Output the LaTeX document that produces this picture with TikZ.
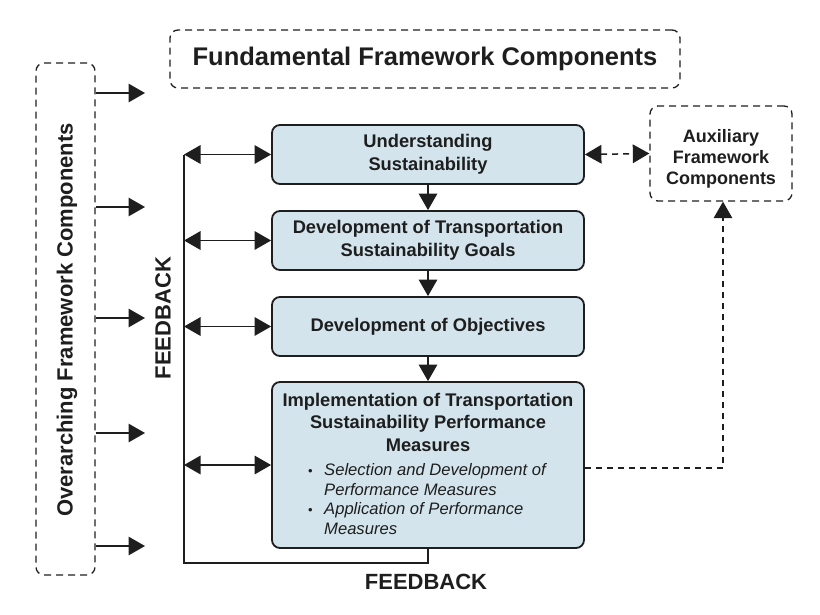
\documentclass[tikz,border=0pt]{standalone}
\usepackage{fontspec}
\setmainfont{Liberation Sans}
\usetikzlibrary{arrows.meta}
\definecolor{boxfill}{HTML}{D3E4EC}
\definecolor{ink}{HTML}{1E1E1E}
\newcommand\bulletmark{\makebox[16pt][l]{\upshape\fontsize{13}{13}\selectfont\textbullet}}
\begin{document}
\begin{tikzpicture}[x=1pt,y=-1pt,
  stage/.style={draw=ink, line width=1.8pt, fill=boxfill, rounded corners=8pt,
    minimum width=312pt, inner sep=0pt, text=ink},
  dbox/.style={draw=ink, line width=1.3pt, dash pattern=on 7pt off 5pt,
    rounded corners=8pt, inner sep=0pt},
  tip/.tip={Triangle[length=16.5pt,width=18.5pt]},
  arr/.style={draw=ink, line width=1.5pt, -tip},
  darr/.style={draw=ink, line width=1.5pt, tip-tip},
  fbline/.style={draw=ink, line width=1.5pt, line join=miter},
  ddarr/.style={draw=ink, line width=1.5pt, dash pattern=on 6pt off 5pt, tip-tip},
  dline/.style={draw=ink, line width=1.5pt, dash pattern=on 6pt off 5pt, -tip},
  bigt/.style={text=ink, font=\bfseries\fontsize{25.5}{30}\selectfont},
  sidet/.style={text=ink, font=\bfseries\fontsize{22}{26}\selectfont},
  boxt/.style={text=ink, align=center, font=\bfseries\fontsize{18.3}{22.5}\selectfont},
  auxt/.style={text=ink, align=center, font=\bfseries\fontsize{18}{21}\selectfont},
  itemt/.style={text=ink, align=left, inner sep=0pt, font=\itshape\fontsize{16.6}{19.7}\selectfont}
]
\useasboundingbox (0,0) rectangle (820,614);

% dashed frames
\node[dbox, minimum width=510pt, minimum height=58pt, bigt] (fund) at (425,59) {Fundamental Framework Components};
\node[dbox, minimum width=59pt, minimum height=512pt] (over) at (65.5,319) {};
\node[sidet, rotate=90] (overt) at (67,320) {Overarching Framework Components};
\node[dbox, minimum width=142pt, minimum height=95pt] (aux) at (721,153.5) {};
\node[auxt] (auxtext) at (721,159) {Auxiliary\\Framework\\Components};

% stages
\node[stage, minimum height=59pt, boxt] (s1) at (428,154.5) {Understanding\\Sustainability};
\node[stage, minimum height=59pt, boxt] (s2) at (428,240.5) {Development of Transportation\\Sustainability Goals};
\node[stage, minimum height=59pt, boxt] (s3) at (428,326.5) {Development of Objectives};
\node[stage, minimum height=166pt] (s4) at (428,465) {};
\node[boxt] (s4t) at (428,422) {Implementation of Transportation\\Sustainability Performance\\Measures};
\node[itemt, anchor=west] (s4b) at (308,499) {\bulletmark Selection and Development of\\
\hspace*{16pt}Performance Measures\\
\bulletmark Application of Performance\\
\hspace*{16pt}Measures};

% arrows from overarching components
\coordinate (o1) at (145,93);
\coordinate (o2) at (145,207);
\coordinate (o3) at (145,318);
\coordinate (o4) at (145,433);
\coordinate (o5) at (145,546);
\foreach \c in {o1,o2,o3,o4,o5} \draw[arr] (over.east |- \c) -- (\c);

% stage sequence
\draw[arr] (s1.south) -- (s2.north);
\draw[arr] (s2.south) -- (s3.north);
\draw[arr] (s3.south) -- (s4.north);

% feedback loop
\coordinate (fbtop) at (184,155);
\coordinate (fbbot) at (184,563);
\draw[fbline] (s4.south) |- (fbbot) -- (fbtop);
\draw[darr] (fbtop |- s1.west) -- (s1.west);
\draw[darr] (fbtop |- s2.west) -- (s2.west);
\draw[darr] (fbtop |- s3.west) -- (s3.west);
\draw[darr] (fbtop |- s4.west) -- (s4.west);
\node[sidet, rotate=90] (fbv) at (163,318) {FEEDBACK};
\node[sidet] (fbh) at (426,582) {FEEDBACK};

% auxiliary links
\draw[ddarr] (s1.east) -- (aux.west);
\coordinate (dc) at (723,468);
\draw[dline] (s4.east |- dc) -- (dc) -- (dc |- aux.south);
\end{tikzpicture}
\end{document}
